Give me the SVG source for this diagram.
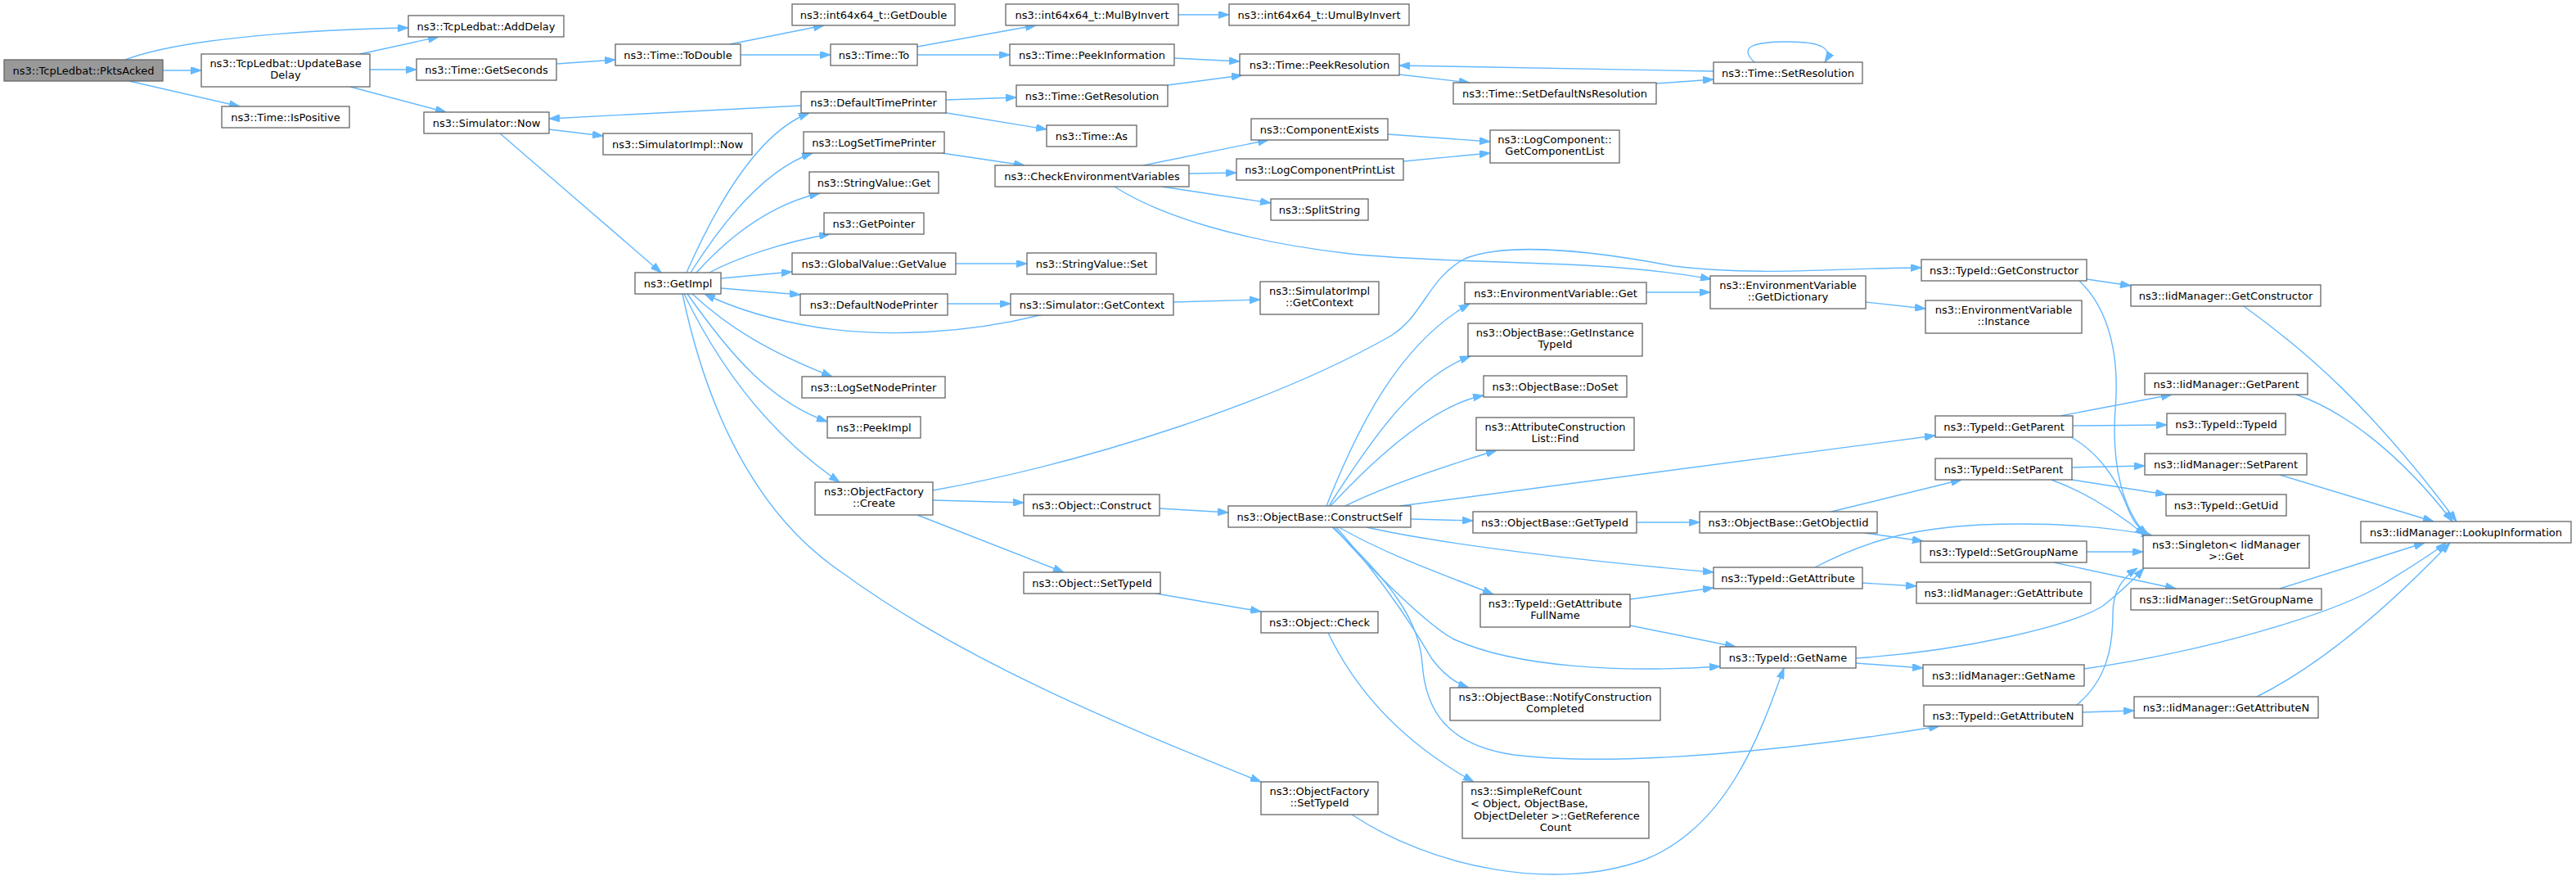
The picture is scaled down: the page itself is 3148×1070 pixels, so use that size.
<svg xmlns="http://www.w3.org/2000/svg" width="3148" height="1070" viewBox="0 0 3148 1070">
<style>
.node rect{fill:#ffffff;stroke:#666666;stroke-width:1.3}
.root rect{fill:#999999}
.node text{font-family:"DejaVu Sans","Liberation Sans",sans-serif;font-size:13px;text-anchor:middle;fill:#000000}
.node text.l{text-anchor:start}
.edges path{fill:none;stroke:#63b8ff;stroke-width:1.4;marker-end:url(#arr)}
</style>
<defs>
<marker id="arr" markerUnits="userSpaceOnUse" viewBox="0 0 13 9" markerWidth="13" markerHeight="9" refX="13" refY="4.5" orient="auto">
<path d="M0,0 L13,4.5 L0,9 z" fill="#63b8ff" stroke="#63b8ff" stroke-width="1"/>
</marker>
</defs>
<rect x="0" y="0" width="3148" height="1070" fill="#ffffff"/>
<g class="edges">
<path d="M153,73 C230,44 400,36 499,34"/>
<path d="M199,86 L246,86"/>
<path d="M158,99 L293,130"/>
<path d="M440,66 L536,45"/>
<path d="M452,85 L509,85"/>
<path d="M428,106 L545,137"/>
<path d="M680,78 L752,73"/>
<path d="M892,54 L1007,31"/>
<path d="M905,67 L1015,67"/>
<path d="M1121,57 L1266,31"/>
<path d="M1121,67 L1234,67"/>
<path d="M1440,18 L1502,18"/>
<path d="M1435,71 L1515,75"/>
<path d="M1427,104 L1518,92"/>
<path d="M979,129 L671,145"/>
<path d="M1156,122 L1242,119"/>
<path d="M1151,137 L1279,158"/>
<path d="M671,158 L737,166"/>
<path d="M611,163 L808,333"/>
<path d="M839,333 C880,240 930,160 989,138"/>
<path d="M844,333 C890,260 940,205 993,187"/>
<path d="M851,333 C890,290 940,250 1002,236"/>
<path d="M867,333 C900,315 960,295 1014,286"/>
<path d="M881,340 L968,332"/>
<path d="M1168,322 L1255,322"/>
<path d="M881,352 L978,360"/>
<path d="M1158,371 L1235,371"/>
<path d="M1434,369 L1540,366"/>
<path d="M1275,384 C1180,408 1080,412 1000,400 C950,392 900,378 861,359"/>
<path d="M846,359 C890,400 940,430 1017,460"/>
<path d="M840,359 C890,430 940,490 1011,515"/>
<path d="M836,359 C880,450 940,530 1026,589"/>
<path d="M834,359 C870,530 940,640 1030,700 C1180,810 1380,890 1541,955"/>
<path d="M1140,599 C1330,565 1560,490 1700,410 C1740,385 1745,340 1790,316 C1840,296 1940,305 2045,325 C2150,338 2250,327 2348,327"/>
<path d="M1140,611 L1251,614"/>
<path d="M1121,629 L1300,699"/>
<path d="M1417,621 L1501,626"/>
<path d="M1413,725 L1541,747"/>
<path d="M1623,773 C1660,850 1720,910 1801,955"/>
<path d="M1652,995 C1750,1060 1900,1090 2010,1050 C2110,1010 2150,900 2180,816"/>
<path d="M1151,187 L1252,202"/>
<path d="M1397,202 L1550,171"/>
<path d="M1453,212 L1511,211"/>
<path d="M1420,228 L1553,248"/>
<path d="M1362,228 C1420,265 1520,295 1650,310 C1800,325 1950,315 2091,341"/>
<path d="M1696,164 L1821,173"/>
<path d="M1715,197 L1821,187"/>
<path d="M1710,91 L1796,101"/>
<path d="M2024,102 L2094,97"/>
<path d="M2094,87 L1710,80"/>
<path d="M2144,76 C2125,58 2140,51 2185,51 C2228,51 2240,60 2230,76"/>
<path d="M1621,618 C1660,520 1710,420 1796,371"/>
<path d="M2012,357 L2090,357"/>
<path d="M2280,369 L2353,377"/>
<path d="M1624,618 C1680,530 1730,460 1797,435"/>
<path d="M1626,618 C1680,560 1750,495 1813,483"/>
<path d="M1644,618 C1700,590 1780,565 1829,550"/>
<path d="M1711,618 L2365,532"/>
<path d="M1724,634 L1800,636"/>
<path d="M2000,638 L2077,638"/>
<path d="M2238,625 L2397,586"/>
<path d="M2279,651 L2350,661"/>
<path d="M1670,644 C1750,662 1900,682 2094,699"/>
<path d="M1636,644 C1700,680 1760,700 1825,726"/>
<path d="M1630,644 C1670,690 1740,760 1775,780 C1850,815 1980,822 2102,814"/>
<path d="M1633,644 C1700,720 1735,780 1750,805 C1765,825 1780,835 1795,840"/>
<path d="M1628,644 C1700,710 1735,760 1738,810 C1742,870 1770,910 1850,922 C1980,938 2200,915 2370,887"/>
<path d="M1992,732 L2094,718"/>
<path d="M1992,764 L2121,790"/>
<path d="M2276,712 L2342,716"/>
<path d="M2218,693 C2290,655 2350,645 2420,641 C2500,638 2570,642 2630,654"/>
<path d="M2268,804 C2400,795 2530,765 2570,740 C2595,720 2610,705 2620,694"/>
<path d="M2268,810 L2350,816"/>
<path d="M2547,817 C2700,795 2850,750 2910,715 C2950,690 2975,675 2989,663"/>
<path d="M2538,861 C2575,830 2582,790 2582,750 C2582,720 2595,705 2612,694"/>
<path d="M2545,870 L2608,868"/>
<path d="M2758,851 C2840,810 2920,740 2994,663"/>
<path d="M2786,719 L2963,663"/>
<path d="M2550,674 L2619,674"/>
<path d="M2510,687 L2659,719"/>
<path d="M2518,508 L2654,482"/>
<path d="M2533,520 L2648,519"/>
<path d="M2531,534 C2560,550 2585,580 2600,620 C2606,635 2612,645 2627,654"/>
<path d="M2532,571 L2621,569"/>
<path d="M2532,586 L2647,604"/>
<path d="M2507,586 C2545,600 2580,620 2622,654"/>
<path d="M2550,341 L2604,349"/>
<path d="M2541,343 C2580,380 2590,440 2585,500 C2580,570 2595,625 2624,654"/>
<path d="M2742,374 C2820,430 2900,500 3002,637"/>
<path d="M2806,482 C2860,500 2930,550 2997,637"/>
<path d="M2786,580 L2974,637"/>
</g>
<g id="n_pktsacked" class="node root"><rect x="5" y="73" width="194" height="26"/><text x="102" y="90.5">ns3::TcpLedbat::PktsAcked</text></g>
<g id="n_updatebasedelay" class="node"><rect x="246" y="66" width="206" height="40"/><text x="349" y="82">ns3::TcpLedbat::UpdateBase</text><text x="349" y="96">Delay</text></g>
<g id="n_adddelay" class="node"><rect x="499" y="19" width="190" height="26"/><text x="594" y="36.5">ns3::TcpLedbat::AddDelay</text></g>
<g id="n_ispositive" class="node"><rect x="271" y="130" width="156" height="26"/><text x="349" y="147.5">ns3::Time::IsPositive</text></g>
<g id="n_getseconds" class="node"><rect x="509" y="72" width="171" height="26"/><text x="594.5" y="89.5">ns3::Time::GetSeconds</text></g>
<g id="n_simnow" class="node"><rect x="518" y="137" width="153" height="26"/><text x="594.5" y="154.5">ns3::Simulator::Now</text></g>
<g id="n_todouble" class="node"><rect x="752" y="54" width="153" height="26"/><text x="828.5" y="71.5">ns3::Time::ToDouble</text></g>
<g id="n_simimplnow" class="node"><rect x="737" y="163" width="182" height="26"/><text x="828" y="180.5">ns3::SimulatorImpl::Now</text></g>
<g id="n_getimpl" class="node"><rect x="776" y="333" width="105" height="26"/><text x="828.5" y="350.5">ns3::GetImpl</text></g>
<g id="n_getdouble" class="node"><rect x="968" y="5" width="199" height="26"/><text x="1067.5" y="22.5">ns3::int64x64_t::GetDouble</text></g>
<g id="n_timeto" class="node"><rect x="1015" y="54" width="106" height="26"/><text x="1068" y="71.5">ns3::Time::To</text></g>
<g id="n_mulbyinvert" class="node"><rect x="1229" y="5" width="211" height="26"/><text x="1334.5" y="22.5">ns3::int64x64_t::MulByInvert</text></g>
<g id="n_umulbyinvert" class="node"><rect x="1502" y="5" width="220" height="26"/><text x="1612" y="22.5">ns3::int64x64_t::UmulByInvert</text></g>
<g id="n_peekinformation" class="node"><rect x="1234" y="54" width="201" height="26"/><text x="1334.5" y="71.5">ns3::Time::PeekInformation</text></g>
<g id="n_peekresolution" class="node"><rect x="1515" y="66" width="195" height="26"/><text x="1612.5" y="83.5">ns3::Time::PeekResolution</text></g>
<g id="n_defaulttimeprinter" class="node"><rect x="979" y="112" width="177" height="26"/><text x="1067.5" y="129.5">ns3::DefaultTimePrinter</text></g>
<g id="n_getresolution" class="node"><rect x="1242" y="104" width="185" height="26"/><text x="1334.5" y="121.5">ns3::Time::GetResolution</text></g>
<g id="n_timeas" class="node"><rect x="1279" y="153" width="110" height="26"/><text x="1334" y="170.5">ns3::Time::As</text></g>
<g id="n_logsettimeprinter" class="node"><rect x="982" y="161" width="172" height="26"/><text x="1068" y="178.5">ns3::LogSetTimePrinter</text></g>
<g id="n_stringvalueget" class="node"><rect x="989" y="210" width="158" height="26"/><text x="1068" y="227.5">ns3::StringValue::Get</text></g>
<g id="n_getpointer" class="node"><rect x="1007" y="260" width="122" height="26"/><text x="1068" y="277.5">ns3::GetPointer</text></g>
<g id="n_globalvaluegetvalue" class="node"><rect x="968" y="309" width="200" height="26"/><text x="1068" y="326.5">ns3::GlobalValue::GetValue</text></g>
<g id="n_stringvalueset" class="node"><rect x="1255" y="309" width="158" height="26"/><text x="1334" y="326.5">ns3::StringValue::Set</text></g>
<g id="n_defaultnodeprinter" class="node"><rect x="978" y="359" width="180" height="26"/><text x="1068" y="376.5">ns3::DefaultNodePrinter</text></g>
<g id="n_simgetcontext" class="node"><rect x="1235" y="359" width="199" height="26"/><text x="1334.5" y="376.5">ns3::Simulator::GetContext</text></g>
<g id="n_simimplgetcontext" class="node"><rect x="1540" y="344" width="145" height="40"/><text x="1612.5" y="360">ns3::SimulatorImpl</text><text x="1612.5" y="374">::GetContext</text></g>
<g id="n_logsetnodeprinter" class="node"><rect x="980" y="460" width="175" height="26"/><text x="1067.5" y="477.5">ns3::LogSetNodePrinter</text></g>
<g id="n_peekimpl" class="node"><rect x="1011" y="509" width="114" height="26"/><text x="1068" y="526.5">ns3::PeekImpl</text></g>
<g id="n_objfactorycreate" class="node"><rect x="996" y="589" width="144" height="40"/><text x="1068" y="605">ns3::ObjectFactory</text><text x="1068" y="619">::Create</text></g>
<g id="n_objectconstruct" class="node"><rect x="1251" y="604" width="166" height="26"/><text x="1334" y="621.5">ns3::Object::Construct</text></g>
<g id="n_objectsettypeid" class="node"><rect x="1251" y="699" width="167" height="26"/><text x="1334.5" y="716.5">ns3::Object::SetTypeId</text></g>
<g id="n_objfactorysettypeid" class="node"><rect x="1541" y="955" width="143" height="40"/><text x="1612.5" y="971">ns3::ObjectFactory</text><text x="1612.5" y="985">::SetTypeId</text></g>
<g id="n_objectcheck" class="node"><rect x="1541" y="747" width="143" height="26"/><text x="1612.5" y="764.5">ns3::Object::Check</text></g>
<g id="n_checkenv" class="node"><rect x="1216" y="202" width="237" height="26"/><text x="1334.5" y="219.5">ns3::CheckEnvironmentVariables</text></g>
<g id="n_componentexists" class="node"><rect x="1529" y="145" width="167" height="26"/><text x="1612.5" y="162.5">ns3::ComponentExists</text></g>
<g id="n_logcomponentprintlist" class="node"><rect x="1511" y="194" width="204" height="26"/><text x="1613" y="211.5">ns3::LogComponentPrintList</text></g>
<g id="n_splitstring" class="node"><rect x="1553" y="243" width="119" height="26"/><text x="1612.5" y="260.5">ns3::SplitString</text></g>
<g id="n_getcomponentlist" class="node"><rect x="1821" y="159" width="158" height="40"/><text x="1900" y="175">ns3::LogComponent::</text><text x="1900" y="189">GetComponentList</text></g>
<g id="n_setdefaultnsres" class="node"><rect x="1776" y="101" width="248" height="26"/><text x="1900" y="118.5">ns3::Time::SetDefaultNsResolution</text></g>
<g id="n_setresolution" class="node"><rect x="2094" y="76" width="182" height="26"/><text x="2185" y="93.5">ns3::Time::SetResolution</text></g>
<g id="n_envvarget" class="node"><rect x="1790" y="345" width="222" height="26"/><text x="1901" y="362.5">ns3::EnvironmentVariable::Get</text></g>
<g id="n_getdictionary" class="node"><rect x="2090" y="337" width="190" height="40"/><text x="2185" y="353">ns3::EnvironmentVariable</text><text x="2185" y="367">::GetDictionary</text></g>
<g id="n_envvarinstance" class="node"><rect x="2353" y="367" width="191" height="40"/><text x="2448.5" y="383">ns3::EnvironmentVariable</text><text x="2448.5" y="397">::Instance</text></g>
<g id="n_typeidgetconstructor" class="node"><rect x="2348" y="317" width="202" height="26"/><text x="2449" y="334.5">ns3::TypeId::GetConstructor</text></g>
<g id="n_iidgetconstructor" class="node"><rect x="2604" y="348" width="232" height="26"/><text x="2720" y="365.5">ns3::IidManager::GetConstructor</text></g>
<g id="n_constructself" class="node"><rect x="1501" y="618" width="223" height="26"/><text x="1612.5" y="635.5">ns3::ObjectBase::ConstructSelf</text></g>
<g id="n_getinstancetypeid" class="node"><rect x="1794" y="395" width="213" height="40"/><text x="1900.5" y="411">ns3::ObjectBase::GetInstance</text><text x="1900.5" y="425">TypeId</text></g>
<g id="n_doset" class="node"><rect x="1813" y="459" width="175" height="26"/><text x="1900.5" y="476.5">ns3::ObjectBase::DoSet</text></g>
<g id="n_acfind" class="node"><rect x="1804" y="510" width="193" height="40"/><text x="1900.5" y="526">ns3::AttributeConstruction</text><text x="1900.5" y="540">List::Find</text></g>
<g id="n_gettypeid" class="node"><rect x="1800" y="625" width="200" height="26"/><text x="1900" y="642.5">ns3::ObjectBase::GetTypeId</text></g>
<g id="n_getobjectiid" class="node"><rect x="2077" y="625" width="217" height="26"/><text x="2185.5" y="642.5">ns3::ObjectBase::GetObjectIid</text></g>
<g id="n_typeidgetattribute" class="node"><rect x="2094" y="693" width="182" height="26"/><text x="2185" y="710.5">ns3::TypeId::GetAttribute</text></g>
<g id="n_getattrfullname" class="node"><rect x="1809" y="726" width="183" height="40"/><text x="1900.5" y="742">ns3::TypeId::GetAttribute</text><text x="1900.5" y="756">FullName</text></g>
<g id="n_typeidgetname" class="node"><rect x="2102" y="790" width="166" height="26"/><text x="2185" y="807.5">ns3::TypeId::GetName</text></g>
<g id="n_notifyconstruction" class="node"><rect x="1772" y="840" width="257" height="40"/><text x="1900.5" y="856">ns3::ObjectBase::NotifyConstruction</text><text x="1900.5" y="870">Completed</text></g>
<g id="n_simplerefcount" class="node"><rect x="1787" y="955" width="228" height="69"/><text class="l" x="1797" y="971">ns3::SimpleRefCount</text><text class="l" x="1797" y="986">&lt; Object, ObjectBase,</text><text class="l" x="1801" y="1001">ObjectDeleter &gt;::GetReference</text><text x="1901" y="1015">Count</text></g>
<g id="n_typeidgetattributen" class="node"><rect x="2351" y="861" width="194" height="26"/><text x="2448" y="878.5">ns3::TypeId::GetAttributeN</text></g>
<g id="n_iidgetattributen" class="node"><rect x="2608" y="851" width="225" height="26"/><text x="2720.5" y="868.5">ns3::IidManager::GetAttributeN</text></g>
<g id="n_iidgetname" class="node"><rect x="2350" y="812" width="197" height="26"/><text x="2448.5" y="829.5">ns3::IidManager::GetName</text></g>
<g id="n_iidgetattribute" class="node"><rect x="2342" y="711" width="213" height="26"/><text x="2448.5" y="728.5">ns3::IidManager::GetAttribute</text></g>
<g id="n_iidsetgroupname" class="node"><rect x="2604" y="719" width="233" height="26"/><text x="2720.5" y="736.5">ns3::IidManager::SetGroupName</text></g>
<g id="n_typeidsetgroupname" class="node"><rect x="2347" y="661" width="203" height="26"/><text x="2448.5" y="678.5">ns3::TypeId::SetGroupName</text></g>
<g id="n_singletonget" class="node"><rect x="2619" y="654" width="203" height="40"/><text x="2720.5" y="670">ns3::Singleton&lt; IidManager</text><text x="2720.5" y="684">&gt;::Get</text></g>
<g id="n_typeidgetparent" class="node"><rect x="2365" y="508" width="168" height="26"/><text x="2449" y="525.5">ns3::TypeId::GetParent</text></g>
<g id="n_typeidsetparent" class="node"><rect x="2365" y="560" width="167" height="26"/><text x="2448.5" y="577.5">ns3::TypeId::SetParent</text></g>
<g id="n_iidgetparent" class="node"><rect x="2621" y="456" width="199" height="26"/><text x="2720.5" y="473.5">ns3::IidManager::GetParent</text></g>
<g id="n_typeidtypeid" class="node"><rect x="2648" y="505" width="145" height="26"/><text x="2720.5" y="522.5">ns3::TypeId::TypeId</text></g>
<g id="n_iidsetparent" class="node"><rect x="2621" y="554" width="198" height="26"/><text x="2720" y="571.5">ns3::IidManager::SetParent</text></g>
<g id="n_typeidgetuid" class="node"><rect x="2647" y="604" width="147" height="26"/><text x="2720.5" y="621.5">ns3::TypeId::GetUid</text></g>
<g id="n_lookupinformation" class="node"><rect x="2885" y="637" width="257" height="26"/><text x="3013.5" y="654.5">ns3::IidManager::LookupInformation</text></g>
</svg>
